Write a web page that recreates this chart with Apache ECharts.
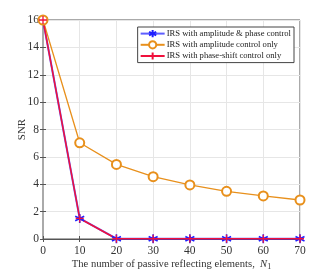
<!DOCTYPE html>
<html><head><meta charset="utf-8">
<script src="https://cdn.jsdelivr.net/npm/echarts@6/dist/echarts.min.js"></script>
<style>html,body{margin:0;padding:0;background:#fff}#c{width:332px;height:274px}</style>
</head><body><div id="c"></div>
<script>
const xValues = [0, 10, 20, 30, 40, 50, 60, 70];
const ampPhase = [16, 1.5, 0.02, 0.02, 0.02, 0.02, 0.02, 0.02];
const ampOnly = [16, 7.03, 5.45, 4.55, 3.95, 3.48, 3.15, 2.85];
const phaseOnly = [16, 1.5, 0.02, 0.02, 0.02, 0.02, 0.02, 0.02];
const seriesNames = ['IRS with amplitude & phase control', 'IRS with amplitude control only', 'IRS with phase-shift control only'];

const font = 'Liberation Serif, Times New Roman, serif';
const pair = a => xValues.map((x, i) => [x, a[i]]);
const star = 'path://M0,-1L0,1M-0.87,-0.5L0.87,0.5M-0.87,0.5L0.87,-0.5';
const plus = 'path://M0,-1L0,1M-1,0L1,0';

const chart = echarts.init(document.getElementById('c'), null, {renderer: 'canvas'});
chart.setOption({
  animation: false,
  grid: {left: 43, right: 32, top: 20, bottom: 35, show: true, borderColor: '#555', borderWidth: 1,
         containLabel: false, outerBoundsMode: 'none'},
  legend: {
    right: 38, top: 27, orient: 'vertical', itemGap: 2, itemWidth: 24, itemHeight: 9,
    backgroundColor: '#fff', borderColor: '#444', borderWidth: 1, padding: [2, 3, 2, 2],
    textStyle: {fontFamily: font, fontSize: 8.6, color: '#222', padding: [0, 0, 0, -3]},
    data: seriesNames
  },
  xAxis: [{
    type: 'value', min: 0, max: 70, interval: 10,
    axisLine: {lineStyle: {color: '#555'}},
    axisTick: {inside: true, length: 3, lineStyle: {color: '#555'}},
    axisLabel: {fontFamily: font, fontSize: 11.5, color: '#333', margin: 6},
    splitLine: {lineStyle: {color: '#e6e6e6'}},
    name: '{a|The number of passive reflecting elements,  }{i|N}{s|1}',
    nameLocation: 'middle', nameGap: 18, nameMoveOverlap: false,
    nameTextStyle: {rich: {
      a: {fontFamily: font, fontSize: 10.6, color: '#333'},
      i: {fontFamily: font, fontSize: 10.6, fontStyle: 'italic', color: '#333'},
      s: {fontFamily: font, fontSize: 8, color: '#333', verticalAlign: 'bottom', padding: [6, 0, 0, 0]}
    }}
  }, {
    type: 'value', min: 0, max: 70, interval: 10, position: 'top',
    axisLine: {show: false}, axisLabel: {show: false}, splitLine: {show: false},
    axisTick: {inside: true, length: 3, lineStyle: {color: '#555'}}
  }],
  yAxis: [{
    type: 'value', min: 0, max: 16, interval: 2,
    axisLine: {show: true, lineStyle: {color: '#aaa', width: 2}},
    axisTick: {show: true, inside: true, length: 3, lineStyle: {color: '#555'}},
    axisLabel: {fontFamily: font, fontSize: 11.5, color: '#333', margin: 4},
    splitLine: {lineStyle: {color: '#e6e6e6'}},
    name: 'SNR', nameLocation: 'middle', nameGap: 15, nameMoveOverlap: false,
    nameTextStyle: {fontFamily: font, fontSize: 11, color: '#333'}
  }, {
    type: 'value', min: 0, max: 16, interval: 2, position: 'right',
    axisLine: {show: false}, axisLabel: {show: false}, splitLine: {show: false},
    axisTick: {show: true, inside: true, length: 3, lineStyle: {color: '#555'}}
  }],
  series: [{
    name: seriesNames[0], type: 'line', data: pair(ampPhase),
    symbol: star, symbolSize: 9,
    lineStyle: {color: 'rgba(40,40,255,0.75)', width: 2},
    itemStyle: {color: 'rgba(0,0,0,0)', borderColor: '#2020ff', borderWidth: 1.6}
  }, {
    name: seriesNames[1], type: 'line', data: pair(ampOnly),
    symbol: 'emptyCircle', symbolSize: 9,
    lineStyle: {color: '#e8901c', width: 1.3},
    itemStyle: {color: '#e8901c', borderColor: '#e8901c', borderWidth: 1.3}
  }, {
    name: seriesNames[2], type: 'line', data: pair(phaseOnly),
    symbol: plus, symbolSize: 8,
    lineStyle: {color: '#f0103c', width: 1.5},
    itemStyle: {color: 'rgba(0,0,0,0)', borderColor: '#f0103c', borderWidth: 1.3}
  }]
});
</script></body></html>
